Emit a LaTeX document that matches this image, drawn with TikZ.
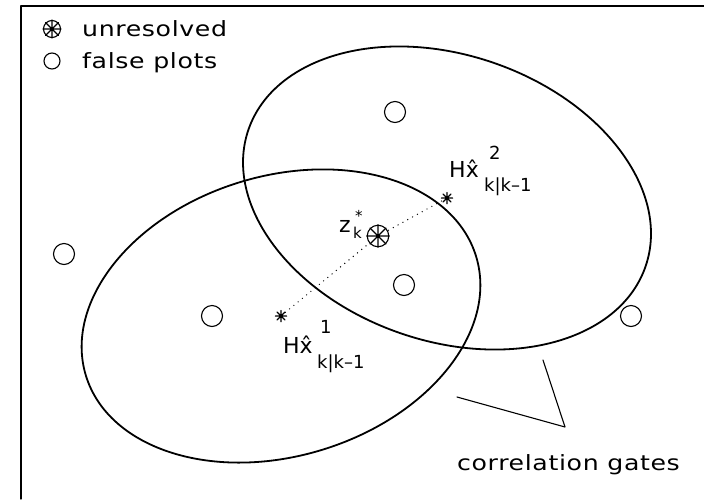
\documentclass[tikz,border=0pt]{standalone}
\usepackage{fontspec}
\setmainfont{DejaVu Sans}
\newfontfamily\plotfont{DejaVu Sans}[FakeStretch=1.2,LetterSpace=3]
\newcommand\spokes[1]{\draw[spoke] (#1.north) -- (#1.south) (#1.east) -- (#1.west) (#1.45) -- (#1.225) (#1.135) -- (#1.315);}
\begin{document}
\begin{tikzpicture}[x=1pt,y=-1pt,line cap=round,line join=round,
  txt/.style={inner sep=0pt,anchor=base west,font=\plotfont\fontsize{21}{25}\selectfont},
  labtxt/.style={inner sep=0pt,anchor=base west,font=\fontsize{22}{26}\selectfont},
  smalltxt/.style={inner sep=0pt,anchor=base west,font=\fontsize{18}{22}\selectfont},
  gate/.style={line width=1.8pt},
  plotmark/.style={circle,draw,line width=1.1pt,minimum size=21pt,inner sep=0pt},
  unres/.style={circle,draw,line width=1.1pt,minimum size=#1,inner sep=0pt},
  astmark/.style={circle,inner sep=0pt,minimum size=11pt},
  spoke/.style={line width=1.1pt},
  track/.style={line width=1.4pt,dash pattern=on 0pt off 5.5pt},
  pointer/.style={line width=1.1pt}]
\useasboundingbox (0,0) rectangle (704,499);
\draw[line width=1.3pt] (21,499) -- (21,6) -- (704,6);
% legend
\node[unres=17pt] (lu) at (52,29) {};
\spokes{lu}
\node[txt] (lut) at (82,36) {unresolved};
\node[plotmark,minimum size=16pt] (lf) at (52,61) {};
\node[txt] (lft) at (82,68) {false plots};
% predicted points
\node[astmark] (p1) at (281,316) {};
\node[astmark] (p2) at (447,198) {};
% gates
\draw[gate,rotate around={17:(p1)}] (p1) ellipse [x radius=204pt,y radius=140pt];
\draw[gate,rotate around={-19:(p2)}] (p2) ellipse [x radius=210pt,y radius=143pt];
% unresolved measurement
\coordinate (zc) at (378,236);
\draw[track] (p1) -- (zc) -- (p2);
\node[unres=21.5pt,fill=white] (z) at (zc) {};
\spokes{z}
\spokes{p1}
\spokes{p2}
% false plots
\node[plotmark] (f1) at (64,254) {};
\node[plotmark] (f2) at (212,316) {};
\node[plotmark] (f3) at (395,112) {};
\node[plotmark] (f4) at (404,285) {};
\node[plotmark] (f5) at (631,316) {};
% labels
\node[labtxt] (zl) at (339,232) {z};
\node[smalltxt,font=\fontsize{15}{18}\selectfont] (zls) at (353,238) {k};
\node[smalltxt,font=\fontsize{15}{18}\selectfont] (zlp) at (355,221) {*};
\node[labtxt] (h2) at (449,177) {H\^{x}};
\node[smalltxt] (h2s) at (489,159) {2};
\node[smalltxt] (h2b) at (484,191) {k|k–1};
\node[labtxt] (h1) at (283,353) {H\^{x}};
\node[smalltxt] (h1s) at (320,333) {1};
\node[smalltxt] (h1b) at (317,368) {k|k–1};
% pointer
\coordinate (ptip) at (565,427);
\coordinate (pa) at (457,397);
\coordinate (pb) at (543,360);
\draw[pointer] (pa) -- (ptip) -- (pb);
\node[txt] (cg) at (457,470) {correlation gates};
\end{tikzpicture}
\end{document}
